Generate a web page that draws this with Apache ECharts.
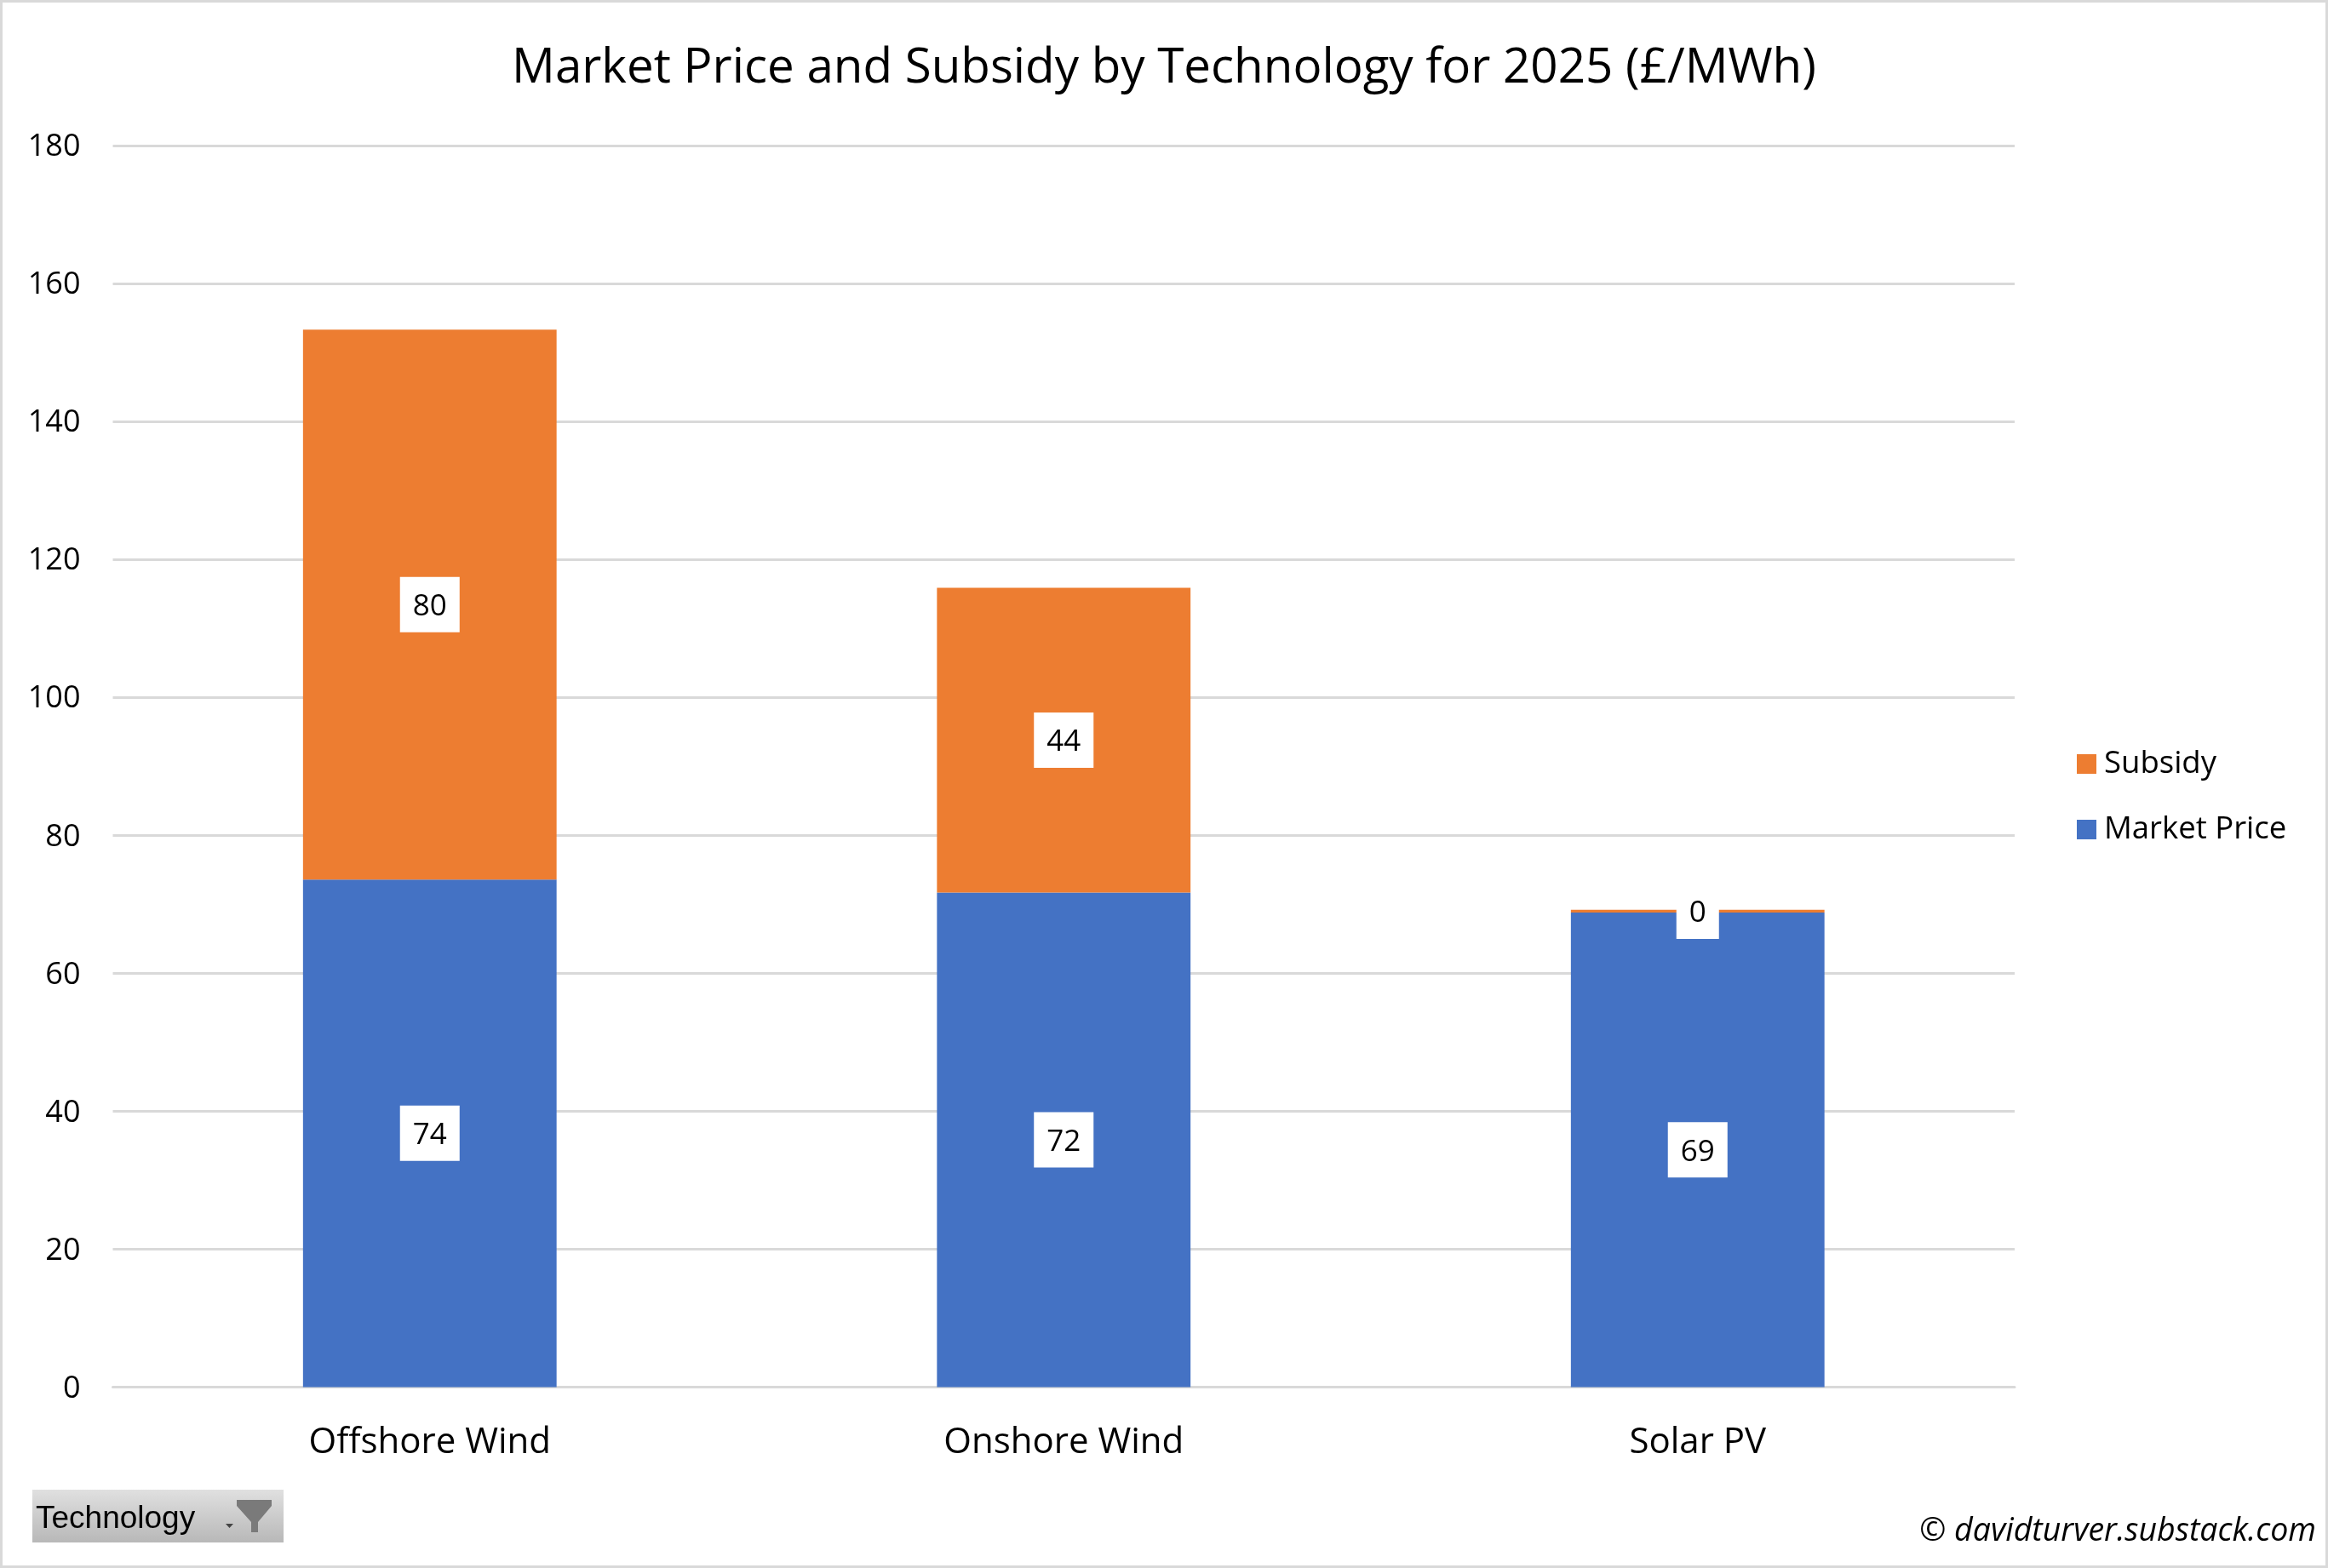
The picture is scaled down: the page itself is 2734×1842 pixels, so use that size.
<!DOCTYPE html>
<html><head><meta charset="utf-8">
<style>html,body{margin:0;padding:0;background:#fff}#c{width:2734px;height:1842px}</style>
<script src="https://cdn.jsdelivr.net/npm/echarts@6/dist/echarts.min.js"></script>
</head><body><div id="c"></div>
<script>
const categories = ['Offshore Wind', 'Onshore Wind', 'Solar PV'];
const marketPrice = [73.6, 71.7, 68.8];
const subsidy = [79.7, 44.2, 0.4];
const yTicks = {min: 0, max: 180, interval: 20};
const FONT = '"Open Sans"';
const chart = echarts.init(document.getElementById('c'), null, {renderer: 'canvas'});
const lab = {
  show: true, position: 'inside', color: '#000', fontFamily: FONT, fontSize: 35,
  backgroundColor: '#fff', padding: [12, 15, 12, 15],
  formatter: p => '{v|' + Math.round(p.value) + '}',
  rich: {v: {fontFamily: FONT, fontSize: 35, color: '#000', padding: [6, 0, 0, 0]}}
};
chart.setOption({
  animation: false,
  backgroundColor: '#fff',
  title: {text: 'Market Price and Subsidy by Technology for 2025 (£/MWh)', left: 1362, top: 76, textAlign: 'center', textVerticalAlign: 'middle',
    textStyle: {fontFamily: FONT, fontWeight: 'normal', fontSize: 56.5, color: '#000'}},
  legend: {orient: 'vertical', left: 2439, top: 879, padding: 0, itemWidth: 23, itemHeight: 23, itemGap: 40,
    icon: 'rect', data: ['Subsidy', 'Market Price'],
    textStyle: {fontFamily: FONT, fontSize: 36.5, color: '#000', padding: [0, 0, 0, 4]}},
  grid: {left: 132.5, right: 368, top: 171, bottom: 212.5, containLabel: false},
  xAxis: {type: 'category', data: categories,
    axisLine: {lineStyle: {color: '#d9d9d9', width: 3}}, axisTick: {show: false},
    axisLabel: {fontFamily: FONT, fontSize: 42, color: '#000', margin: 45}},
  yAxis: {type: 'value', min: yTicks.min, max: yTicks.max, interval: yTicks.interval,
    axisLine: {show: false}, axisTick: {show: false},
    splitLine: {lineStyle: {color: '#d9d9d9', width: 3}},
    axisLabel: {color: '#000', margin: 38, formatter: v => '{v|' + v + '}',
      rich: {v: {fontFamily: FONT, fontSize: 36, color: '#000', padding: [4, 0, 0, 0]}}}},
  series: [
    {name: 'Market Price', type: 'bar', stack: 't', data: marketPrice, barWidth: '40%', itemStyle: {color: '#4472c4'}, label: lab},
    {name: 'Subsidy', type: 'bar', stack: 't', data: subsidy, barWidth: '40%', itemStyle: {color: '#ed7d31'}, label: lab}
  ],
  graphic: [
    {type: 'rect', z: 100, shape: {x: 1.5, y: 1.5, width: 2731, height: 1839}, style: {fill: 'none', stroke: '#d9d9d9', lineWidth: 3}},
    {type: 'rect', z: 100, shape: {x: 38, y: 1750, width: 295, height: 62},
      style: {fill: new echarts.graphic.LinearGradient(0, 0, 0, 1, [{offset: 0, color: '#e0e0e0'}, {offset: 1, color: '#b8b8b8'}])}},
    {type: 'text', z: 101, x: 42, y: 1785, style: {text: 'Technology', fontFamily: '"Liberation Sans"', fontSize: 37, fill: '#000', textVerticalAlign: 'middle', verticalAlign: 'middle'}},
    {type: 'polygon', z: 101, shape: {points: [[278, 1762], [319, 1762], [319, 1769], [303, 1788], [303, 1800], [295, 1800], [295, 1788], [278, 1769]]}, style: {fill: '#7a7a7a'}},
    {type: 'polygon', z: 101, shape: {points: [[265, 1790], [274, 1790], [269.5, 1795]]}, style: {fill: '#444'}},
    {type: 'text', z: 101, x: 2720, y: 1799, style: {text: '© davidturver.substack.com', fontFamily: FONT, fontStyle: 'italic', fontSize: 37.5, fill: '#000', align: 'right', textAlign: 'right', verticalAlign: 'middle', textVerticalAlign: 'middle'}}
  ]
});
</script></body></html>
